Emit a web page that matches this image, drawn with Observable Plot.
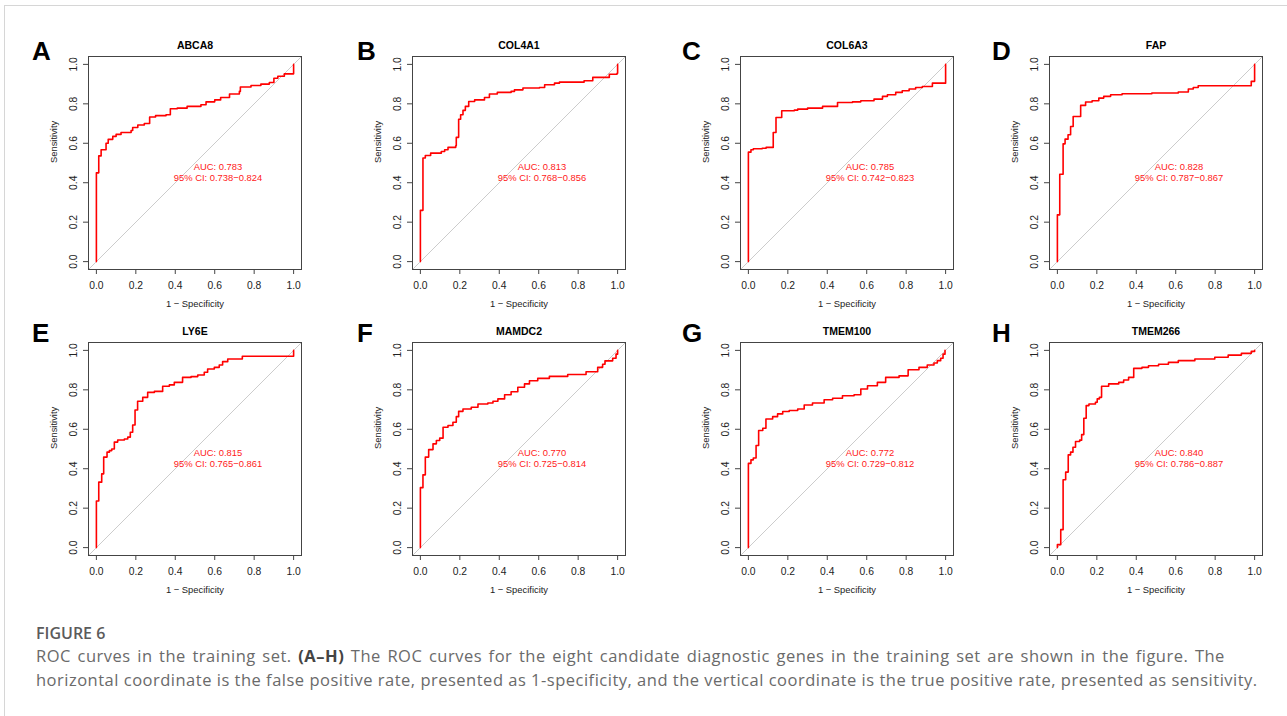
<!DOCTYPE html>
<html>
<head>
<meta charset="utf-8">
<script src="https://cdn.jsdelivr.net/npm/d3@7"></script>
<script src="https://cdn.jsdelivr.net/npm/@observablehq/plot@0.6"></script>
<style>
  html, body { margin: 0; padding: 0; background: #fff; }
  #page { position: relative; width: 1287px; height: 716px; overflow: hidden; background: #fff; }
  #border { position: absolute; left: 4px; top: 5px; right: 0; bottom: 0; border-top: 1px solid #d6d6d6; border-left: 1px solid #d6d6d6; }
  .letter { position: absolute; font: bold 26px "Liberation Sans", Arial, sans-serif; line-height: 26px; color: #000; }
  .panel { position: absolute; }
  #figlabel { position: absolute; left: 36px; top: 620.5px; font: 600 16px "Open Sans", sans-serif; line-height: 24px; color: #5b5b5b; }
  #caption { position: absolute; left: 36px; top: 643.5px; font: 400 16.5px "Open Sans", sans-serif; letter-spacing: 0.5px; line-height: 24px; color: #6a6a6a; white-space: nowrap; }
</style>
</head>
<body>
<div id="page">
  <div id="border"></div>
  <div id="figlabel">FIGURE 6</div>
  <div id="caption"><span style="word-spacing:1.8px">ROC curves in the training set. <b style="color:#444">(A–H)</b> The ROC curves for the eight candidate diagnostic genes in the training set are shown in the figure. The</span><br>horizontal coordinate is the false positive rate, presented as 1-specificity, and the vertical coordinate is the true positive rate, presented as sensitivity.</div>
</div>
<script>
// ---- data ----
const letters = ["A", "B", "C", "D", "E", "F", "G", "H"];
const genes = ["ABCA8", "COL4A1", "COL6A3", "FAP", "LY6E", "MAMDC2", "TMEM100", "TMEM266"];
const aucValues = ["0.783", "0.813", "0.785", "0.828", "0.815", "0.770", "0.772", "0.840"];
const ciLow = ["0.738", "0.768", "0.742", "0.787", "0.765", "0.725", "0.729", "0.786"];
const ciHigh = ["0.824", "0.856", "0.823", "0.867", "0.861", "0.814", "0.812", "0.887"];
const tickValues = [0, 0.2, 0.4, 0.6, 0.8, 1.0];
const axisDomain = [-0.04, 1.04];

const abca8Fpr = [0, 0, 0.012, 0.024, 0.049, 0.06, 0.083, 0.1, 0.125, 0.176, 0.184, 0.21, 0.243, 0.27, 0.30, 0.353, 0.375, 0.41, 0.46, 0.53, 0.556, 0.6, 0.63, 0.675, 0.725, 0.73, 0.784, 0.834, 0.877, 0.9, 0.92, 0.953, 1.0];
const abca8Tpr = [0, 0.45, 0.536, 0.567, 0.60, 0.62, 0.635, 0.645, 0.655, 0.665, 0.68, 0.693, 0.70, 0.733, 0.74, 0.745, 0.775, 0.778, 0.787, 0.795, 0.81, 0.82, 0.832, 0.85, 0.863, 0.885, 0.893, 0.9, 0.908, 0.93, 0.94, 0.952, 1.0];

const col4a1Fpr = [0, 0, 0.013, 0.025, 0.052, 0.106, 0.123, 0.14, 0.179, 0.182, 0.194, 0.204, 0.216, 0.228, 0.245, 0.275, 0.325, 0.35, 0.39, 0.46, 0.477, 0.52, 0.604, 0.63, 0.68, 0.705, 0.83, 0.874, 0.958, 0.997, 1.0];
const col4a1Tpr = [0, 0.26, 0.525, 0.538, 0.55, 0.558, 0.567, 0.579, 0.587, 0.63, 0.722, 0.745, 0.767, 0.787, 0.812, 0.82, 0.832, 0.85, 0.858, 0.863, 0.871, 0.88, 0.883, 0.897, 0.905, 0.91, 0.917, 0.934, 0.95, 0.955, 1.0];

const col6a3Fpr = [0, 0, 0.013, 0.025, 0.07, 0.09, 0.126, 0.14, 0.169, 0.233, 0.25, 0.3, 0.376, 0.452, 0.528, 0.57, 0.637, 0.68, 0.705, 0.747, 0.78, 0.815, 0.848, 0.882, 0.933, 1.0];
const col6a3Tpr = [0, 0.555, 0.567, 0.572, 0.575, 0.579, 0.655, 0.731, 0.765, 0.768, 0.773, 0.778, 0.787, 0.807, 0.81, 0.816, 0.824, 0.838, 0.846, 0.858, 0.866, 0.875, 0.883, 0.888, 0.905, 1.0];

const fapFpr = [0, 0, 0.012, 0.029, 0.039, 0.054, 0.067, 0.08, 0.118, 0.143, 0.176, 0.21, 0.235, 0.27, 0.328, 0.479, 0.613, 0.664, 0.689, 0.714, 0.983, 1.0];
const fapTpr = [0, 0.237, 0.443, 0.597, 0.621, 0.643, 0.685, 0.736, 0.792, 0.809, 0.816, 0.829, 0.838, 0.846, 0.851, 0.855, 0.86, 0.875, 0.883, 0.892, 0.914, 1.0];

const ly6eFpr = [0, 0, 0.012, 0.027, 0.037, 0.054, 0.066, 0.078, 0.091, 0.108, 0.142, 0.159, 0.172, 0.184, 0.196, 0.209, 0.235, 0.26, 0.294, 0.336, 0.37, 0.395, 0.437, 0.48, 0.514, 0.547, 0.564, 0.598, 0.623, 0.64, 0.666, 0.74, 1.0];
const ly6eTpr = [0, 0.236, 0.332, 0.374, 0.459, 0.484, 0.492, 0.5, 0.535, 0.546, 0.551, 0.56, 0.585, 0.622, 0.698, 0.742, 0.762, 0.787, 0.792, 0.818, 0.825, 0.838, 0.863, 0.867, 0.875, 0.889, 0.906, 0.914, 0.926, 0.943, 0.956, 0.97, 1.0];

const mamdc2Fpr = [0, 0, 0.013, 0.025, 0.042, 0.064, 0.081, 0.098, 0.115, 0.14, 0.165, 0.182, 0.194, 0.216, 0.258, 0.292, 0.342, 0.368, 0.393, 0.427, 0.46, 0.494, 0.528, 0.553, 0.595, 0.654, 0.747, 0.84, 0.899, 0.924, 0.936, 0.975, 0.992, 1.0];
const mamdc2Tpr = [0, 0.304, 0.369, 0.459, 0.497, 0.526, 0.543, 0.555, 0.61, 0.619, 0.636, 0.664, 0.691, 0.703, 0.712, 0.728, 0.733, 0.742, 0.754, 0.775, 0.79, 0.813, 0.83, 0.846, 0.858, 0.868, 0.878, 0.892, 0.914, 0.93, 0.947, 0.96, 0.981, 1.0];

const tmem100Fpr = [0, 0, 0.013, 0.025, 0.039, 0.052, 0.073, 0.089, 0.123, 0.148, 0.174, 0.207, 0.25, 0.283, 0.325, 0.384, 0.427, 0.477, 0.536, 0.57, 0.604, 0.654, 0.696, 0.764, 0.81, 0.865, 0.907, 0.941, 0.958, 0.975, 0.987, 0.997];
const tmem100Tpr = [0, 0.427, 0.445, 0.454, 0.518, 0.594, 0.605, 0.652, 0.664, 0.678, 0.69, 0.695, 0.703, 0.723, 0.733, 0.75, 0.757, 0.77, 0.775, 0.804, 0.821, 0.838, 0.863, 0.871, 0.902, 0.914, 0.926, 0.936, 0.948, 0.96, 0.981, 1.0];

const tmem266Fpr = [0, 0, 0.017, 0.029, 0.042, 0.055, 0.067, 0.079, 0.092, 0.113, 0.123, 0.134, 0.146, 0.16, 0.193, 0.202, 0.213, 0.224, 0.26, 0.311, 0.336, 0.361, 0.387, 0.429, 0.462, 0.513, 0.563, 0.613, 0.697, 0.798, 0.866, 0.933, 0.983, 1.0];
const tmem266Tpr = [0, 0.015, 0.091, 0.344, 0.383, 0.47, 0.484, 0.509, 0.538, 0.545, 0.573, 0.656, 0.72, 0.728, 0.737, 0.754, 0.762, 0.818, 0.83, 0.838, 0.85, 0.863, 0.909, 0.914, 0.922, 0.93, 0.939, 0.948, 0.956, 0.965, 0.976, 0.985, 0.995, 1.0];

const curvesFpr = [abca8Fpr, col4a1Fpr, col6a3Fpr, fapFpr, ly6eFpr, mamdc2Fpr, tmem100Fpr, tmem266Fpr];
const curvesTpr = [abca8Tpr, col4a1Tpr, col6a3Tpr, fapTpr, ly6eTpr, mamdc2Tpr, tmem100Tpr, tmem266Tpr];

// ---- layout ----
const BOX = 213;
const ML = 60, MR = 12, MT = 32, MB = 50;
const boxLeft = [88, 411.5, 740, 1049];
const boxTop = [55.5, 342];
const letterLeft = [32, 357, 682, 992, 32, 357, 682, 992];
const letterTop = [37.6, 37.6, 37.6, 37.6, 319.6, 319.6, 319.6, 319.6];
const font = '"Liberation Sans", Arial, Helvetica, sans-serif';
const fmt = d3.format(".1f");

const page = document.getElementById("page");

function panel(i) {
  const pts = curvesFpr[i].map((x, j) => ({x, y: curvesTpr[i][j]}));
  const svg = Plot.plot({
    width: ML + BOX + MR,
    height: MT + BOX + MB,
    marginLeft: ML, marginRight: MR, marginTop: MT, marginBottom: MB,
    style: {fontFamily: font, fontSize: "10px", overflow: "visible", background: "transparent", color: "#222"},
    x: {domain: axisDomain},
    y: {domain: axisDomain},
    marks: [
      Plot.link([axisDomain], {x1: d => d[0], y1: d => d[0], x2: d => d[1], y2: d => d[1], stroke: "#cccccc", strokeWidth: 1}),
      Plot.line(pts, {x: "x", y: "y", curve: "step-after", stroke: "#ff0000", strokeWidth: 1.6}),
      Plot.frame({stroke: "#444", strokeWidth: 1}),
      Plot.axisX({ticks: tickValues, tickFormat: fmt, tickSize: 5, tickPadding: 7, label: null, stroke: "#444", fontSize: 10.3}),
      Plot.axisY({ticks: tickValues, tickFormat: fmt, tickSize: 5, tickPadding: 7, tickRotate: -90, label: null, stroke: "#444", fontSize: 10.3}),
      Plot.text([genes[i]], {frameAnchor: "top", dy: -10.75, fontWeight: "bold", fontSize: 10.5, lineAnchor: "middle", fill: "#000"}),
      Plot.text(["1 \u2212 Specificity"], {frameAnchor: "bottom", dy: 34.6, fontSize: 9.4, lineAnchor: "middle", fill: "#222"}),
      Plot.text(["Sensitivity"], {frameAnchor: "left", dx: -34.5, rotate: -90, fontSize: 9.4, lineAnchor: "middle", fill: "#222"}),
      Plot.text([`AUC: ${aucValues[i]}\n95% CI: ${ciLow[i]}\u2212${ciHigh[i]}`], {frameAnchor: "middle", dx: 23, dy: 9, fontSize: 9.4, lineHeight: 1.15, lineAnchor: "middle", fill: "#ff1a1a"})
    ]
  });
  svg.classList.add("panel");
  const col = i % 4, row = Math.floor(i / 4);
  svg.style.left = (boxLeft[col] - ML) + "px";
  svg.style.top = (boxTop[row] - MT) + "px";
  page.appendChild(svg);

  const L = document.createElement("div");
  L.className = "letter";
  L.textContent = letters[i];
  L.style.left = letterLeft[i] + "px";
  L.style.top = letterTop[i] + "px";
  page.appendChild(L);
}

for (let i = 0; i < genes.length; i++) panel(i);
</script>
</body>
</html>
